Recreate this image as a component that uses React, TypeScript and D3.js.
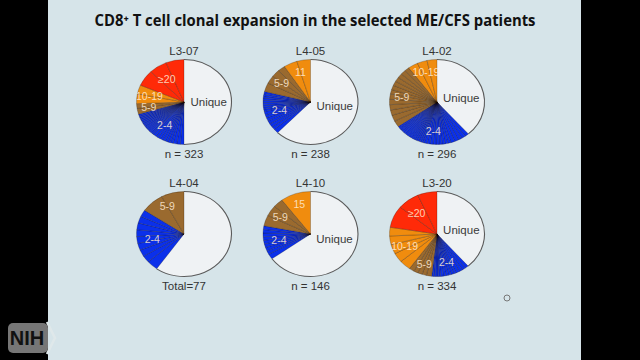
import React from "react";
import * as d3 from "d3";

// ---------- data ----------
const patients = ["L3-07", "L4-05", "L4-02", "L4-04", "L4-10", "L3-20"];
const totalLabels = ["n = 323", "n = 238", "n = 296", "Total=77", "n = 146", "n = 334"];
const uniqueCounts = [162, 148, 114, 46, 95, 129];
const clones2to4 = [
  [4, 4, 4, 3, 3, 3, 3, 3, 3, 3, 3, 2, 2, 2, 2, 2, 2, 2, 2, 2, 2, 2, 2, 2, 2, 2],
  [4, 3, 3, 3, 3, 3, 3, 2, 2, 2, 2, 2, 2, 2, 2, 2],
  [4, 4, 4, 4, 4, 3, 3, 3, 3, 3, 3, 3, 3, 3, 2, 2, 2, 2, 2, 2, 2, 2, 2, 2, 2, 2, 2, 2, 2, 2],
  [3, 2, 2, 2, 2, 2, 2, 2, 2],
  [3, 2, 2, 2, 2, 2, 2, 2, 2],
  [4, 4, 4, 4, 3, 3, 3, 3, 3, 3, 2, 2, 2, 2, 2],
];
const clones5to9 = [
  [7, 6],
  [8, 7, 7, 6],
  [7, 7, 6, 6, 6, 6, 5, 5, 5, 5, 5, 5, 5],
  [6, 6],
  [6, 6, 5],
  [6, 5, 5, 5, 6],
];
const clones10to19 = [
  [12, 11],
  [11, 11],
  [10, 10, 10],
  [],
  [15],
  [13, 12, 12, 11, 11],
];
const clones20plus = [
  [20, 20, 20],
  [],
  [],
  [],
  [],
  [28, 25, 22],
];
const label10to19 = ["10-19", "11", "10-19", "", "15", "10-19"];
const showUnique = [true, true, true, false, true, true];
const categories = ["Unique", "2-4", "5-9", "10-19", "≥20"];
const categoryColors = ["#eff2f4", "#0b30ea", "#9a6a2f", "#f08c0e", "#ff2a08"];

// ---------- layout ----------
const W = 640;
const H = 360;
const colX = [184, 310.5, 437];
const rowY = [102, 234];
const RX = 47.5;
const RY = 42.5;
const labelRadius = [0.52, 0.68, 0.75, 0.74, 0.66];

type Clone = { cat: number; size: number };

function PieChart({ idx }: { idx: number }) {
  const cx = colX[idx % 3];
  const cy = rowY[Math.floor(idx / 3)];
  const items: Clone[] = [
    { cat: 0, size: uniqueCounts[idx] },
    ...clones2to4[idx].map((s) => ({ cat: 1, size: s })),
    ...clones5to9[idx].map((s) => ({ cat: 2, size: s })),
    ...clones10to19[idx].map((s) => ({ cat: 3, size: s })),
    ...clones20plus[idx].map((s) => ({ cat: 4, size: s })),
  ];
  const pie = d3.pie<Clone>().sort(null).value((d) => d.size);
  const arcs = pie(items);
  const arc = d3.arc<d3.PieArcDatum<Clone>>().innerRadius(0).outerRadius(RX);
  const outline = d3.arc<d3.PieArcDatum<Clone>>().innerRadius(RX).outerRadius(RX);

  const labels: { text: string; x: number; y: number; cat: number }[] = [];
  for (let c = 0; c < 5; c++) {
    const seg = arcs.filter((a) => a.data.cat === c);
    if (!seg.length) continue;
    const a0 = seg[0].startAngle;
    const a1 = seg[seg.length - 1].endAngle;
    let mid = (a0 + a1) / 2;
    const k = labelRadius[c];
    let text = categories[c];
    if (c === 0) {
      if (!showUnique[idx]) continue;
      mid = Math.PI / 2 + (mid - Math.PI / 2) * 0.5;
    }
    if (c === 3) text = label10to19[idx];
    if (!text) continue;
    labels.push({
      text,
      cat: c,
      x: cx + k * RX * Math.sin(mid),
      y: cy - k * RY * Math.cos(mid),
    });
  }
  const uniqueArc = arcs.find((a) => a.data.cat === 0)!;

  return (
    <g>
      <g transform={`translate(${cx},${cy}) scale(1,${RY / RX})`}>
        {arcs.map((a, i) => (
          <path
            key={i}
            d={arc(a) || ""}
            fill={categoryColors[a.data.cat]}
            stroke={a.data.cat === 0 ? "none" : "rgba(20,10,0,0.55)"}
            strokeWidth={0.45}
          />
        ))}
        <path d={outline(uniqueArc) || ""} fill="none" stroke="#5a5a5a" strokeWidth={1.1} />
      </g>
      <text
        x={cx}
        y={cy - RY - 5}
        textAnchor="middle"
        fontFamily="Liberation Sans, Arial, sans-serif"
        fontSize={11.5}
        fill="#333"
      >
        {patients[idx]}
      </text>
      <text
        x={cx}
        y={cy + RY + 13}
        textAnchor="middle"
        fontFamily="Liberation Sans, Arial, sans-serif"
        fontSize={11.5}
        fill="#333"
      >
        {totalLabels[idx]}
      </text>
      {labels.map((l, i) => (
        <text
          key={i}
          x={l.x}
          y={l.y}
          textAnchor="middle"
          dominantBaseline="central"
          fontFamily="Liberation Sans, Arial, sans-serif"
          fontSize={l.cat === 0 ? 11.5 : 10.5}
          fill={l.cat === 0 ? "#3a3a3a" : "rgba(255,236,215,0.85)"}
        >
          {l.text}
        </text>
      ))}
    </g>
  );
}

export default function App() {
  return (
    <svg
      width={W}
      height={H}
      style={{ position: "fixed", left: 0, top: 0, display: "block" }}
    >
      <rect x={0} y={0} width={W} height={H} fill="#000" />
      <rect x={48} y={0} width={533} height={H} fill="#d6e4e9" />
      <text
        x={315}
        y={26}
        textAnchor="middle"
        fontFamily="Open Sans, DejaVu Sans, sans-serif"
        fontWeight={700}
        fontSize={16}
        fill="#111"
        textLength={441}
        lengthAdjust="spacingAndGlyphs"
      >
        CD8⁺ T cell clonal expansion in the selected ME/CFS patients
      </text>
      {patients.map((_, i) => (
        <PieChart key={i} idx={i} />
      ))}
      <circle cx={507} cy={298} r={3} fill="none" stroke="#777" strokeWidth={1} />
      <rect x={8} y={323} width={40} height={30} rx={5} fill="#767676" />
      <polyline points="47,322 55,338 47,354" fill="none" stroke="#dfe8ea" strokeWidth={2.5} />
      <text
        x={27}
        y={345}
        textAnchor="middle"
        fontFamily="Liberation Sans, Arial, sans-serif"
        fontWeight={700}
        fontSize={20}
        fill="#111"
      >
        NIH
      </text>
    </svg>
  );
}
